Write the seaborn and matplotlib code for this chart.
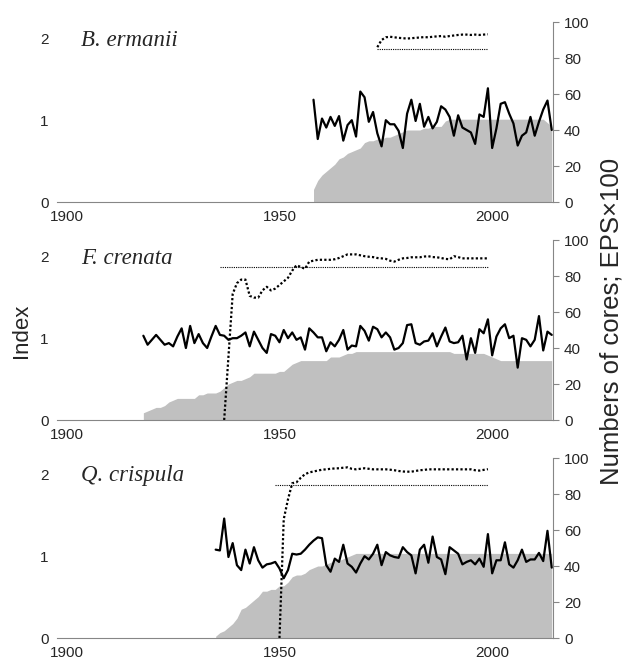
import numpy as np
import pandas as pd
import matplotlib
matplotlib.use("Agg")
import matplotlib.pyplot as plt
import seaborn as sns


# Tree-ring chronologies: index (left axis), number of cores and EPS x 100 (right axis)

species = ["B. ermanii", "F. crenata", "Q. crispula"]

# B. ermanii
be_years = list(range(1958, 2015))
be_index = [1.25, 0.77, 1.02, 0.91, 1.04, 0.93, 1.05, 0.75, 0.94, 1.00,
            0.80, 1.35, 1.28, 0.98, 1.10, 0.84, 0.68, 1.00, 0.95, 0.95,
            0.87, 0.66, 1.08, 1.25, 0.99, 1.20, 0.92, 1.04, 0.90, 0.98,
            1.17, 1.13, 1.04, 0.81, 1.06, 0.91, 0.88, 0.85, 0.71, 1.07,
            1.04, 1.39, 0.66, 0.90, 1.20, 1.22, 1.08, 0.96, 0.69, 0.81,
            0.85, 1.04, 0.81, 0.98, 1.13, 1.24, 0.88]
be_cores = [7, 12, 15, 17, 19, 21, 24, 25, 27, 28,
            29, 30, 33, 34, 34, 35, 35, 36, 36, 37,
            38, 39, 40, 40, 40, 40, 41, 41, 42, 42,
            42, 45, 46, 46, 46, 46, 46, 46, 46, 46,
            46, 46, 46, 46, 46, 46, 46, 46, 46, 46,
            46, 46, 46, 46, 46, 44, 42]
be_eps_years = list(range(1973, 2000))
be_eps = [86, 90, 91.5, 91.8, 91.5, 91.2, 91, 90.8, 91, 91.2,
          91.4, 91.6, 91.5, 91.8, 92, 92.2, 91.8, 92.2, 92.5, 92.8,
          93, 93, 92.8, 93, 92.8, 93, 93.2]

# F. crenata
fc_years = list(range(1918, 2015))
fc_index = [1.03, 0.92, 0.98, 1.04, 0.98, 0.92, 0.94, 0.90, 1.02, 1.12,
            0.88, 1.15, 0.94, 1.05, 0.94, 0.88, 1.02, 1.15, 1.04, 1.03,
            0.98, 1.00, 1.00, 1.03, 1.07, 0.90, 1.08, 0.98, 0.88, 0.82,
            1.05, 1.03, 0.95,
            1.10, 1.00, 1.07, 0.98, 1.01, 0.86, 1.12, 1.07, 1.01, 1.01,
            0.84, 0.95, 0.90, 0.98, 1.10, 0.86, 0.91, 0.90, 1.15, 1.09,
            0.97, 1.14, 1.11, 1.01, 1.07, 1.01, 0.86, 0.88, 0.94, 1.16,
            1.17, 0.94, 0.92, 0.96, 0.97, 1.06, 0.90, 1.02, 1.13, 0.96,
            0.94, 0.95, 1.03, 0.74, 1.00, 0.82, 1.11, 1.06, 1.23, 0.79,
            1.02, 1.12, 1.17, 1.00, 1.03, 0.64, 1.00, 0.98, 0.90, 0.98,
            1.27, 0.85, 1.08, 1.04]
fc_cores = [4, 5, 6, 7, 7, 8, 10, 11, 12, 12,
            12, 12, 12, 14, 14, 15, 15, 15, 16, 18,
            20, 21, 22, 22, 23, 24, 26, 26, 26, 26,
            26, 26, 27, 27, 29, 31, 32, 33, 33, 33,
            33, 33, 33, 33, 35, 35, 35, 36, 37, 37,
            38, 38, 38, 38, 38, 38, 38, 38, 38, 38,
            38, 38, 38, 38, 38, 38, 38, 38, 38, 38,
            38, 38, 38, 37, 37, 37, 37, 37, 37, 37,
            37, 36, 35, 34, 33, 33, 33, 33, 33, 33,
            33, 33, 33, 33, 33, 33, 33]
fc_eps_years = list(range(1937, 2000))
fc_eps = [0, 35, 70, 76, 78, 78, 69, 68, 68, 72,
          74, 72, 73, 75, 77, 79, 83, 86, 85, 84,
          88, 88.5, 89, 89, 89, 89, 89.3, 90, 91, 92,
          92, 92, 91.5, 91, 90.7, 90.5, 90, 89.8, 89.5, 88.5,
          88, 89, 89.8, 90, 90.4, 90.4, 90.4, 90.8, 91, 90.5,
          90.4, 90, 89.5, 89.3, 91, 90.5, 89.8, 89.8, 89.8, 89.8,
          89.8, 89.8, 89.8]

# Q. crispula
qc_years = list(range(1935, 2015))
qc_index = [1.08, 1.07, 1.46, 0.99, 1.16, 0.89, 0.83, 1.08, 0.91, 1.11,
            0.95, 0.86, 0.90, 0.91, 0.93, 0.85, 0.73, 0.83, 1.03, 1.02,
            1.03, 1.08, 1.14, 1.19, 1.23, 1.22, 0.89, 0.81, 0.97, 0.93,
            1.14, 0.91, 0.87, 0.80, 0.91, 1.00, 0.96, 1.03, 1.14,
            0.89, 1.05, 1.01, 0.99, 0.98, 1.11, 1.05, 1.01, 0.79, 1.08,
            1.14, 0.92, 1.24, 0.99, 0.96, 0.78, 1.11, 1.07, 1.03, 0.90,
            0.93, 0.95, 0.90, 0.97, 0.87, 1.27, 0.79, 0.95, 0.95, 1.17,
            0.90, 0.86, 0.95, 1.08, 0.93, 0.96, 0.96, 1.04, 0.94, 1.31,
            0.86]
qc_cores = [1, 3, 4, 6, 8, 11, 16, 17, 19, 21,
            23, 26, 26, 27, 27, 29, 29, 31, 34, 35,
            35, 36, 38, 39, 40, 40, 41, 42, 43, 43,
            44, 45, 46, 47, 47, 47, 47, 47, 47, 47,
            47, 47, 47, 47, 47, 47, 47, 47, 47, 47,
            47, 47, 47, 47, 47, 47, 47, 47, 47, 47,
            47, 47, 47, 47, 47, 47, 47, 47, 47, 47,
            47, 47, 47, 47, 47, 47, 47, 47, 47, 47]
qc_eps_years = list(range(1950, 2000))
qc_eps = [0, 66, 77, 86, 86.5, 89, 91, 92, 92.5, 93,
          93.5, 93.7, 94, 94.2, 94.3, 94.6, 94.8, 94, 93.7, 94,
          94.3, 94, 93.7, 93.7, 93.7, 93.7, 93.5, 93.2, 92.8, 92.5,
          92.4, 92.4, 92.8, 93.2, 93.4, 93.7, 93.7, 93.7, 93.7, 93.7,
          93.7, 93.7, 93.7, 93.7, 93.7, 93.7, 93.2, 93, 93.4, 93.8]

eps_threshold = 85
threshold_start = [1973, 1936, 1949]
threshold_end = 1999

panels = [
    (be_years, be_index, be_cores, be_eps_years, be_eps),
    (fc_years, fc_index, fc_cores, fc_eps_years, fc_eps),
    (qc_years, qc_index, qc_cores, qc_eps_years, qc_eps),
]


sns.set_style("white")
plt.rcParams['font.family'] = ['Liberation Sans', 'DejaVu Sans']

fig = plt.figure(figsize=(6.27, 6.62), dpi=100)

bottoms = [1 - 202 / 662, 1 - 420 / 662, 1 - 638 / 662]
left, width, height = 57 / 627, 496 / 627, 180 / 662

for i, (yrs, idx, cores, eps_yrs, eps) in enumerate(panels):
    ax = fig.add_axes([left, bottoms[i], width, height])
    ax2 = ax.twinx()

    # cores (grey area) and EPS on the right axis
    ax2.fill_between(yrs, cores, 0, color='#c0c0c0', lw=0)
    sns.lineplot(x=eps_yrs, y=eps, ax=ax2, color='black', lw=1.6,
                 linestyle=(0, (1, 1)), legend=False)
    ax2.hlines(eps_threshold, threshold_start[i], threshold_end,
               color='black', lw=0.8, linestyles=(0, (1, 1)))

    # index on the left axis, drawn above the area
    ax.set_zorder(ax2.get_zorder() + 1)
    ax.patch.set_visible(False)
    df = pd.DataFrame({'year': yrs, 'index': idx})
    sns.lineplot(data=df, x='year', y='index', ax=ax, color='black', lw=1.6)

    ax.set_xlim(1897.7, 2014.3)
    ax.set_ylim(0, 2.2)
    ax2.set_ylim(0, 100)
    ax.set_yticks([0, 1, 2])
    ax2.set_yticks([0, 20, 40, 60, 80, 100])
    ax.set_xticks([1900, 1950, 2000])
    ax.set_xlabel('')
    ax.set_ylabel('')
    ax2.set_ylabel('')

    for a in (ax, ax2):
        for s in ['top', 'left', 'right', 'bottom']:
            a.spines[s].set_visible(False)
    ax.spines['bottom'].set_visible(True)
    ax.spines['bottom'].set_color('#868686')
    ax2.spines['right'].set_visible(True)
    ax2.spines['right'].set_color('#868686')

    ax.tick_params(axis='y', length=0, labelsize=11, pad=6)
    ax.tick_params(axis='x', length=4, color='#868686', labelsize=11, pad=2)
    ax2.tick_params(axis='y', length=4, color='#868686', labelsize=11, pad=4)

    ax.text(0.048, 0.9, species[i], transform=ax.transAxes, fontsize=16.5,
            style='italic', family='Liberation Serif', va='center', ha='left')

fig.text(0.035, 0.5, 'Index', rotation=90, fontsize=16, va='center', ha='center')
fig.text(0.976, 0.515, 'Numbers of cores; EPS\u00d7100', rotation=90, fontsize=18.5,
         va='center', ha='center')

plt.savefig('out.png', dpi=100)
